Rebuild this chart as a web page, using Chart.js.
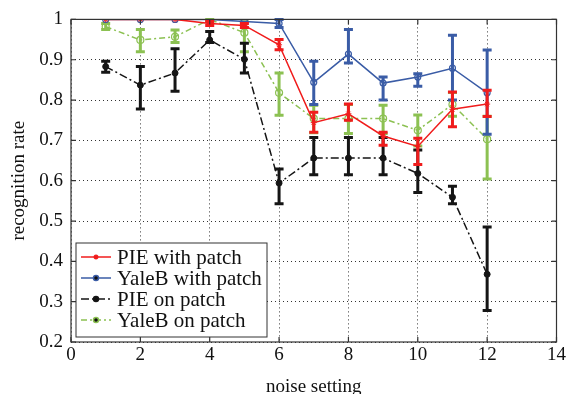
<!DOCTYPE html>
<html><head><meta charset="utf-8">
<script src="https://cdn.jsdelivr.net/npm/chart.js@4.4.1/dist/chart.umd.min.js"></script>
<style>html,body{margin:0;padding:0;background:#fff;}#c{display:block;}</style>
</head><body>
<canvas id="c" width="568" height="394"></canvas>
<script>
const noiseSettings = [1,2,3,4,5,6,7,8,9,10,11,12];
const xTicks = [0,2,4,6,8,10,12,14];
const yTicks = [0.2,0.3,0.4,0.5,0.6,0.7,0.8,0.9,1];

const pieWithPatch      = [1.0,1.0,1.0,0.990,0.985,0.937,0.744,0.766,0.711,0.685,0.777,0.790];
const pieWithPatchLow   = [null,null,null,0.985,0.980,0.925,0.720,0.750,0.688,0.640,0.734,0.759];
const pieWithPatchHigh  = [null,null,null,0.995,0.990,0.950,0.770,0.790,0.720,0.705,0.820,0.824];

const yaleWithPatch     = [1.0,1.0,1.0,1.0,0.995,0.990,0.844,0.914,0.842,0.857,0.879,0.818];
const yaleWithPatchLow  = [null,null,null,null,null,0.980,0.789,0.892,0.800,0.834,0.800,0.715];
const yaleWithPatchHigh = [null,null,null,null,null,1.000,0.896,0.975,0.857,0.865,0.961,0.924];

const pieOnPatch        = [0.883,0.837,0.867,0.949,0.901,0.594,0.656,0.656,0.656,0.618,0.559,0.368];
const pieOnPatchLow     = [0.869,0.778,0.822,0.943,0.867,0.543,0.615,0.615,0.615,0.571,0.543,0.278];
const pieOnPatchHigh    = [0.896,0.883,0.927,0.970,0.941,0.629,0.707,0.707,0.707,0.676,0.586,0.485];

const yaleOnPatch       = [0.982,0.949,0.957,1.000,0.967,0.818,0.754,0.754,0.754,0.725,0.789,0.703];
const yaleOnPatchLow    = [0.975,0.920,0.943,0.995,0.920,0.762,0.719,0.717,0.717,0.686,0.760,0.604];
const yaleOnPatchHigh   = [0.990,0.975,0.974,1.000,0.994,0.867,0.787,0.789,0.787,0.763,0.819,0.760];

const seriesLabels = ['PIE with patch','YaleB with patch','PIE on patch','YaleB on patch'];

function pts(v){ return noiseSettings.map((x,i)=>({x:x,y:v[i]})); }

const FONT = "'Liberation Serif','DejaVu Serif',serif";

const errorBars = {
  id:'errorBars',
  afterDatasetDraw(chart, args){
    const ds = chart.data.datasets[args.index];
    if(!ds.low) return;
    const ctx = chart.ctx, xs = chart.scales.x, ys = chart.scales.y;
    ctx.save();
    ctx.strokeStyle = ds.borderColor;
    ctx.lineWidth = ds.errWidth || 2.5;
    ctx.setLineDash([]);
    ds.low.forEach((lo,i)=>{
      const hi = ds.high[i];
      if(lo==null || hi==null) return;
      const px = xs.getPixelForValue(noiseSettings[i]);
      const y1 = ys.getPixelForValue(lo), y2 = ys.getPixelForValue(hi);
      const w = 4.5;
      ctx.beginPath();
      ctx.moveTo(px,y1); ctx.lineTo(px,y2);
      ctx.moveTo(px-w,y1); ctx.lineTo(px+w,y1);
      ctx.moveTo(px-w,y2); ctx.lineTo(px+w,y2);
      ctx.stroke();
    });
    ctx.restore();
  }
};

const frame = {
  id:'frame',
  afterDatasetsDraw(chart){
    const ctx = chart.ctx, a = chart.chartArea, xs = chart.scales.x, ys = chart.scales.y;
    ctx.save();
    ctx.strokeStyle = '#333'; ctx.lineWidth = 1.2; ctx.setLineDash([]);
    ctx.strokeRect(a.left, a.top, a.right-a.left, a.bottom-a.top);
    ctx.beginPath();
    xTicks.forEach(t=>{ const p = xs.getPixelForValue(t);
      ctx.moveTo(p,a.bottom); ctx.lineTo(p,a.bottom-5);
      ctx.moveTo(p,a.top); ctx.lineTo(p,a.top+5); });
    yTicks.forEach(t=>{ const p = ys.getPixelForValue(t);
      ctx.moveTo(a.left,p); ctx.lineTo(a.left+5,p);
      ctx.moveTo(a.right,p); ctx.lineTo(a.right-5,p); });
    ctx.stroke();
    // legend
    const lx=76, ly=243, lw=191, lh=94;
    ctx.fillStyle='#fff'; ctx.fillRect(lx,ly,lw,lh);
    ctx.strokeStyle='#333'; ctx.lineWidth=1; ctx.strokeRect(lx,ly,lw,lh);
    const rows=[257,278,299,320];
    chart.data.datasets.forEach((ds,i)=>{
      const y=rows[i];
      ctx.strokeStyle=ds.borderColor; ctx.lineWidth=ds.borderWidth;
      ctx.setLineDash(ds.borderDash||[]);
      ctx.beginPath(); ctx.moveTo(81,y); ctx.lineTo(111,y); ctx.stroke();
      ctx.setLineDash([]);
      Chart.helpers.drawPoint(ctx,{pointStyle:ds.pointStyle,radius:2.5,borderWidth:1},96,y);
      ctx.fillStyle='#111'; ctx.font="21px "+FONT; ctx.textBaseline='middle'; ctx.textAlign='left';
      ctx.fillText(seriesLabels[i],117,y+1);
    });
    ctx.restore();
  }
};

const gridCfg = {color:'#333', lineWidth:1, drawTicks:false};

new Chart(document.getElementById('c'),{
  type:'scatter',
  data:{datasets:[
    {label:seriesLabels[0],data:pts(pieWithPatch),low:pieWithPatchLow,high:pieWithPatchHigh,
     showLine:true,borderColor:'#f01c1c',backgroundColor:'#f01c1c',borderWidth:1.5,pointStyle:'star',pointRadius:3,pointBorderWidth:1,errWidth:3},
    {label:seriesLabels[1],data:pts(yaleWithPatch),low:yaleWithPatchLow,high:yaleWithPatchHigh,
     showLine:true,borderColor:'#3a5ca6',backgroundColor:'rgba(255,255,255,0)',borderWidth:1.5,pointStyle:'circle',pointRadius:3,pointBorderWidth:1.2,errWidth:3},
    {label:seriesLabels[2],data:pts(pieOnPatch),low:pieOnPatchLow,high:pieOnPatchHigh,
     showLine:true,borderColor:'#151515',backgroundColor:'#151515',borderWidth:1.5,borderDash:[8,3,2,3],pointStyle:'circle',pointRadius:3,pointBorderWidth:1,errWidth:3},
    {label:seriesLabels[3],data:pts(yaleOnPatch),low:yaleOnPatchLow,high:yaleOnPatchHigh,
     showLine:true,borderColor:'#8cc152',backgroundColor:'rgba(255,255,255,0)',borderWidth:1.5,borderDash:[6,3,2,3],pointStyle:'circle',pointRadius:3.5,pointBorderWidth:1.2,errWidth:3}
  ]},
  options:{
    responsive:false, animation:false, devicePixelRatio:1,
    layout:{padding:{left:0,right:11,top:16,bottom:0}},
    plugins:{legend:{display:false},tooltip:{enabled:false}},
    elements:{line:{tension:0}},
    scales:{
      x:{type:'linear',min:0,max:14,
        afterBuildTicks(s){ s.ticks = xTicks.map(v=>({value:v})); },
        afterFit(s){ s.height = 52; },
        grid:{...gridCfg},
        border:{display:false, dash:[1,3]},
        ticks:{color:'#111',font:{family:FONT,size:19},padding:2,maxRotation:0,callback:v=>String(v)},
        title:{display:true,text:'noise setting',color:'#111',font:{family:FONT,size:19},padding:{top:0,bottom:-4}}
      },
      y:{type:'linear',min:0.2,max:1,
        afterBuildTicks(s){ s.ticks = yTicks.map(v=>({value:v})); },
        afterFit(s){ s.width = 71; },
        grid:{...gridCfg},
        border:{display:false, dash:[1,3]},
        ticks:{color:'#111',font:{family:FONT,size:19},padding:8,callback:v=>String(Math.round(v*10)/10)},
        title:{display:true,text:'recognition rate',color:'#111',font:{family:FONT,size:19},padding:{top:8,bottom:4}}
      }
    }
  },
  plugins:[errorBars,frame]
});
</script>
</body></html>
